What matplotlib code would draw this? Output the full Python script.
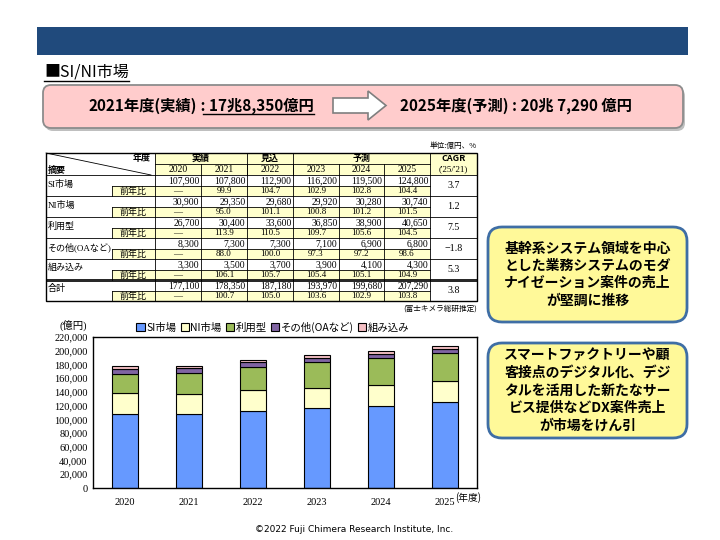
import numpy as np
import matplotlib
matplotlib.use("Agg")
import matplotlib.pyplot as plt
from matplotlib.patches import Rectangle, FancyBboxPatch, Polygon

plt.rcParams['font.family'] = ['Noto Sans CJK JP', 'DejaVu Sans']

# ---- data ----
years = ['2020', '2021', '2022', '2023', '2024', '2025']
segments = ['SI市場', 'NI市場', '利用型', 'その他(OAなど)', '組み込み']
si = [107900, 107800, 112900, 116200, 119500, 124800]
ni = [30900, 29350, 29680, 29920, 30280, 30740]
riyo = [26700, 30400, 33600, 36850, 38900, 40650]
sonota = [8300, 7300, 7300, 7100, 6900, 6800]
kumikomi = [3300, 3500, 3700, 3900, 4100, 4300]
total = [177100, 178350, 187180, 193970, 199680, 207290]

yoy_si = ['—', '99.9', '104.7', '102.9', '102.8', '104.4']
yoy_ni = ['—', '95.0', '101.1', '100.8', '101.2', '101.5']
yoy_riyo = ['—', '113.9', '110.5', '109.7', '105.6', '104.5']
yoy_sonota = ['—', '88.0', '100.0', '97.3', '97.2', '98.6']
yoy_kumikomi = ['—', '106.1', '105.7', '105.4', '105.1', '104.9']
yoy_total = ['—', '100.7', '105.0', '103.6', '102.9', '103.8']
cagr = ['3.7', '1.2', '7.5', '\u22121.8', '5.3', '3.8']

row_labels = ['SI市場', 'NI市場', '利用型', 'その他(OAなど)', '組み込み', '合計']
row_vals = [si, ni, riyo, sonota, kumikomi, total]
row_yoy = [yoy_si, yoy_ni, yoy_riyo, yoy_sonota, yoy_kumikomi, yoy_total]

bar_colors = ['#6699FF', '#FFFFCC', '#9BBB59', '#8064A2', '#F4BFC4']

right_notes = ['基幹系システム領域を中心\nとした業務システムのモダ\nナイゼーション案件の売上\nが堅調に推移',
               'スマートファクトリーや顧\n客接点のデジタル化、デジ\nタルを活用した新たなサー\nビス提供などDX案件売上\nが市場をけん引']

serif = ['Liberation Serif', 'Noto Sans CJK JP']
yellow = '#FFFFCC'

fig = plt.figure(figsize=(7.2, 5.4), dpi=100)
bg = fig.add_axes([0, 0, 1, 1])
bg.set_xlim(0, 720)
bg.set_ylim(540, 0)
bg.axis('off')

# header band
bg.add_patch(Rectangle((37, 27), 651, 28, fc='#204A7C', ec='none'))

# title
title = bg.text(44, 72, '■SI/NI市場', fontsize=11.5, va='center', ha='left')

# pink summary box
bg.add_patch(FancyBboxPatch((45, 88), 640, 43, boxstyle='round,pad=0,rounding_size=8',
                            fc='#BFBFBF', ec='none'))
bg.add_patch(FancyBboxPatch((43, 85), 640, 43, boxstyle='round,pad=0,rounding_size=8',
                            fc='#FFCCCC', ec='#8C8C8C', lw=1.3))
t1 = bg.text(197, 106, '2021年度(実績)', fontsize=11, fontweight='bold', ha='right', va='center')
t2 = bg.text(197, 106, ' : 17兆8,350億円', fontsize=11, fontweight='bold', ha='left', va='center')
bg.text(400, 106, '2025年度(予測) : 20兆 7,290 億円', fontsize=11, fontweight='bold',
        ha='left', va='center')
arrow = [(333, 98), (368, 98), (368, 91), (386, 105.5), (368, 120), (368, 113), (333, 113)]
bg.add_patch(Polygon(arrow, closed=True, fc='white', ec='#7F7F7F', lw=1.2))

# ---- table ----
col_x = [155, 201, 247, 293, 339, 384, 430]
tl, sub_l, tr = 46, 112, 477
top, hmid, hbot = 153, 164, 175
blk_h, val_h = 21, 11
lw = 0.6
fs = 6.5
fn = 6.9
fy = 6.5

bg.text(tr, 146, '単位:億円、%', fontsize=5.5, ha='right', va='center')
bg.add_patch(Rectangle((col_x[0], top), tr - col_x[0], hbot - top, fc=yellow, ec='none'))
for i in range(6):
    y0 = hbot + i * blk_h
    bg.add_patch(Rectangle((sub_l, y0 + val_h), col_x[-1] - sub_l, blk_h - val_h, fc=yellow, ec='none'))

# header lines
bg.plot([tl, tr], [hbot, hbot], color='k', lw=lw)
bg.plot([col_x[0], col_x[-1]], [hmid, hmid], color='k', lw=lw)
for xx in [col_x[0], col_x[2], col_x[3], col_x[-1]]:
    bg.plot([xx, xx], [top, hbot], color='k', lw=lw)
for xx in col_x[1:-1]:
    bg.plot([xx, xx], [hmid, hbot], color='k', lw=lw)
bg.plot([tl, col_x[0] - 4], [top, hbot], color='k', lw=lw)
bg.text(col_x[0] - 4, 158, '年度', fontsize=fs, ha='right', va='center', fontweight='bold')
bg.text(tl + 2, 170, '摘要', fontsize=fs, ha='left', va='center', fontweight='bold')
bg.text((col_x[0] + col_x[2]) / 2, 158.5, '実績', fontsize=fs, ha='center', va='center', fontweight='bold')
bg.text((col_x[2] + col_x[3]) / 2, 158.5, '見込', fontsize=fs, ha='center', va='center', fontweight='bold')
bg.text((col_x[3] + col_x[-1]) / 2, 158.5, '予測', fontsize=fs, ha='center', va='center', fontweight='bold')
bg.text((col_x[-1] + tr) / 2, 158.5, 'CAGR', fontsize=fs, ha='center', va='center', fontweight='bold')
bg.text((col_x[-1] + tr) / 2, 169.5, "('25/'21)", fontsize=fs, ha='center', va='center', family=serif)
for j, yr in enumerate(years):
    bg.text((col_x[j] + col_x[j + 1]) / 2, 169.5, yr, fontsize=fn, ha='center', va='center',
            family=serif)

# body
for i in range(6):
    y0 = hbot + i * blk_h
    bg.plot([tl, tr], [y0 + blk_h, y0 + blk_h], color='k', lw=lw)
    bg.plot([sub_l, col_x[-1]], [y0 + val_h, y0 + val_h], color='k', lw=lw)
    bg.plot([sub_l, sub_l], [y0 + val_h, y0 + blk_h], color='k', lw=lw)
    for xx in col_x:
        bg.plot([xx, xx], [y0, y0 + blk_h], color='k', lw=lw)
    bg.text(tl + 1.5, y0 + 9, row_labels[i], fontsize=fs, ha='left', va='center', family=serif)
    bg.text((sub_l + col_x[0]) / 2, y0 + val_h + 5, '前年比', fontsize=fs, ha='center', va='center')
    for j in range(6):
        bg.text(col_x[j + 1] - 1.5, y0 + val_h / 2 + 0.5, f'{row_vals[i][j]:,}', fontsize=fn,
                ha='right', va='center', family=serif)
        bg.text((col_x[j] + col_x[j + 1]) / 2, y0 + val_h + 5.2, row_yoy[i][j], fontsize=fy,
                ha='center', va='center', family=serif)
    bg.text((col_x[-1] + tr) / 2, y0 + blk_h / 2, cagr[i], fontsize=7.2, ha='center', va='center',
            family=serif)
y_tot = hbot + 5 * blk_h
bg.plot([tl, tr], [y_tot - 1, y_tot - 1], color='k', lw=lw)
bg.plot([tl, tr], [y_tot + 0.8, y_tot + 0.8], color='k', lw=lw)
bg.add_patch(Rectangle((tl, top), tr - tl, hbot + 6 * blk_h - top, fc='none', ec='k', lw=1.0))
bg.text(tr, 309, '(富士キメラ総研推定)', fontsize=5.5, ha='right', va='center')

# ---- right notes ----
for y0, note in zip([227, 343], right_notes):
    bg.add_patch(FancyBboxPatch((488, y0), 199, 95, boxstyle='round,pad=0,rounding_size=14',
                                fc='#FFF999', ec='#3F6EA5', lw=2))
    bg.text(587.5, y0 + 47.5, note, fontsize=10, fontweight='bold', ha='center', va='center',
            linespacing=1.3)

# ---- stacked bar chart ----
ax = fig.add_axes([93 / 720, 1 - 488 / 540, 384 / 720, 151 / 540])
x = np.arange(len(years))
bottom = np.zeros(len(years))
for vals, name, col in zip([si, ni, riyo, sonota, kumikomi], segments, bar_colors):
    ax.bar(x, vals, 0.4, bottom=bottom, color=col, edgecolor='black', lw=0.8, label=name)
    bottom += np.array(vals)
ax.set_xlim(-0.5, 5.5)
ax.set_ylim(0, 220000)
yt = np.arange(0, 220001, 20000)
ax.set_yticks(yt)
ax.set_yticklabels([f'{v:,}' for v in yt], family=serif, fontsize=7.5)
ax.set_xticks(x)
ax.set_xticklabels(years, family=serif, fontsize=7.5)
ax.tick_params(axis='x', length=0, pad=7)
ax.tick_params(axis='y', length=0, pad=4)
for s in ax.spines.values():
    s.set_linewidth(1.0)
bg.text(60, 325, '(億円)', fontsize=7.5, ha='left', va='center', family=serif)
bg.text(455, 498, '(年度)', fontsize=7, ha='left', va='center')
fig.legend(loc='center', bbox_to_anchor=(273 / 720, 1 - 327 / 540), ncol=5, frameon=False,
           fontsize=7.5, handlelength=0.8, handleheight=0.8, handletextpad=0.15,
           columnspacing=0.4, borderpad=0)

# footer
bg.text(354, 529, '©2022 Fuji Chimera Research Institute, Inc.', fontsize=6.5, ha='center',
        va='center', family=['DejaVu Sans'])

# underlines
fig.canvas.draw()
inv = bg.transData.inverted()
for t, dy in [(title, 8.5), (t2, 8)]:
    bb = t.get_window_extent()
    (xa, _), (xb, _) = inv.transform([(bb.x0, bb.y0), (bb.x1, bb.y1)])
    yy = t.get_position()[1] + dy
    bg.plot([xa + (6 if t is t2 else 0), xb], [yy, yy], color='k', lw=1.0)

fig.savefig('out.png', dpi=100)
